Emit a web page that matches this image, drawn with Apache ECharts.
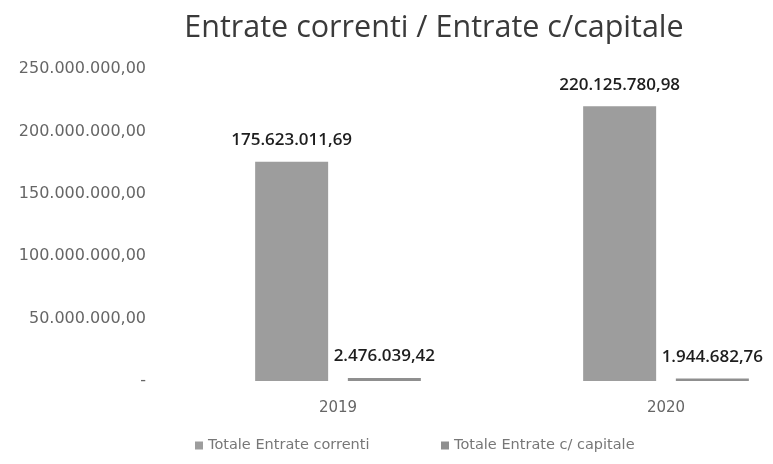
<!DOCTYPE html>
<html><head><meta charset="utf-8">
<script src="https://cdn.jsdelivr.net/npm/echarts@6/dist/echarts.min.js"></script>
<style>html,body{margin:0;padding:0;background:#fff}#c{width:773px;height:464px}</style>
</head><body><div id="c"></div>
<script>
const categories = ['2019', '2020'];
const seriesNames = ['Totale Entrate correnti', 'Totale Entrate c/ capitale'];
const entrateCorrenti = [175623011.69, 220125780.98];
const entrateCapitale = [2476039.42, 1944682.76];
const yTicks = [0, 50000000, 100000000, 150000000, 200000000, 250000000];

function fmt(v, dec) {
  if (v === 0) return '-';
  const s = v.toFixed(dec);
  const parts = s.split('.');
  const intp = parts[0].replace(/\B(?=(\d{3})+(?!\d))/g, '.');
  return intp + ',' + parts[1];
}

const chart = echarts.init(document.getElementById('c'), null, {renderer: 'canvas'});
const labelStyle = {
  show: true, position: 'top', distance: 13,
  fontFamily: 'Open Sans', fontSize: 17, fontWeight: 600, color: '#1e1e1e',
  formatter: p => fmt(p.value, 2)
};
const legendText = {fontFamily: 'DejaVu Sans', fontSize: 14.5, color: '#777'};
chart.setOption({
  animation: false,
  title: {
    text: 'Entrate correnti / Entrate c/capitale',
    left: 429, top: 8, textAlign: 'center',
    textStyle: {fontFamily: 'Open Sans', fontSize: 30.5, fontWeight: 'normal', color: '#3a3a3a'}
  },
  legend: [
    {bottom: 6, left: 190, itemWidth: 8, itemHeight: 8, icon: 'rect',
     textStyle: legendText, data: [seriesNames[0]]},
    {bottom: 6, left: 436, itemWidth: 8, itemHeight: 8, icon: 'rect',
     textStyle: legendText, data: [seriesNames[1]]}
  ],
  grid: {left: 174, width: 656, top: 69, bottom: 83, containLabel: false, outerBoundsMode: 'none'},
  xAxis: {
    type: 'category', data: categories,
    axisLine: {show: false}, axisTick: {show: false},
    axisLabel: {margin: 20, fontFamily: 'DejaVu Sans', fontSize: 15, color: '#666'}
  },
  yAxis: {
    type: 'value', min: 0, max: yTicks[yTicks.length - 1], interval: yTicks[1] - yTicks[0],
    splitLine: {show: false}, axisLine: {show: false}, axisTick: {show: false},
    axisLabel: {margin: 28, fontFamily: 'DejaVu Sans', fontSize: 16, color: '#666',
      formatter: v => fmt(v, 2)}
  },
  series: [
    {name: seriesNames[0], type: 'bar', data: entrateCorrenti, barWidth: 73, barGap: '27%',
     itemStyle: {color: '#9d9d9d'}, label: labelStyle},
    {name: seriesNames[1], type: 'bar', data: entrateCapitale, barWidth: 73,
     itemStyle: {color: '#8f8f8f'}, label: labelStyle}
  ]
});
</script></body></html>
